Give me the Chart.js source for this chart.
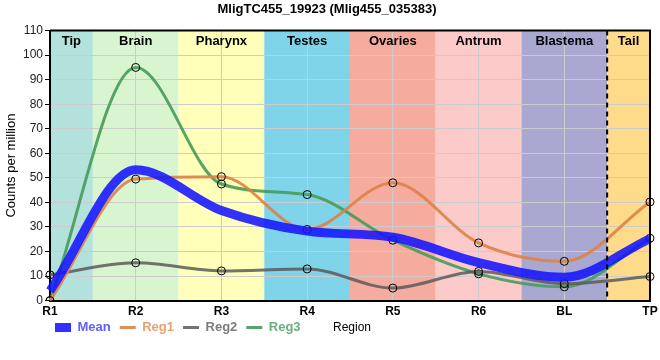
<!DOCTYPE html>
<html>
<head>
<meta charset="utf-8">
<script src="https://cdn.jsdelivr.net/npm/chart.js@4"></script>
<style>
  html, body { margin: 0; padding: 0; background: #fff; }
  #wrap { width: 660px; height: 360px; }
</style>
</head>
<body>
<div id="wrap"><canvas id="grafico"></canvas></div>
<script>
  const categorias = ['R1', 'R2', 'R3', 'R4', 'R5', 'R6', 'BL', 'TP'];
  const regioes = ['Tip', 'Brain', 'Pharynx', 'Testes', 'Ovaries', 'Antrum', 'Blastema', 'Tail'];
  const coresRegioes = ['#b3e2dd', '#d8f5d0', '#ffffb9', '#7fd4ea', '#f5ab9e', '#fdcaca', '#a9a8d0', '#fedb8b'];

  const media = [4, 53.3, 36.7, 28.3, 25.8, 15.5, 9.5, 25.2];
  const reg1 = [0, 49.5, 50.5, 29, 48, 23.5, 16, 40.2];
  const reg2 = [10.5, 15.4, 12.1, 12.9, 5.1, 11.9, 6.9, 9.8];
  const reg3 = [0, 95, 47.5, 43.2, 24.6, 10.9, 5.6, 25.4];
  const ticksY = { min: 0, max: 110, passo: 10 };

  // fundo colorido das regioes + linha tracejada + rotulos
  const fundoRegioes = {
    id: 'fundoRegioes',
    afterLayout(chart) {
      // ajusta a legenda: alinhada com o grafico, na altura certa
      chart.legend.left += 42;
      chart.legend.top = 328 - chart.legend.height / 2;
    },
    beforeDraw(chart) {
      const { ctx, chartArea, scales: { x } } = chart;
      ctx.save();
      regioes.forEach((r, i) => {
        const x0 = Math.max(x.getPixelForValue(i - 0.5), chartArea.left);
        const x1 = Math.min(x.getPixelForValue(i + 0.5), chartArea.right);
        ctx.fillStyle = coresRegioes[i];
        ctx.fillRect(x0, chartArea.top, x1 - x0, chartArea.bottom - chartArea.top);
      });
      ctx.restore();
    },
    afterDatasetsDraw(chart) {
      const { ctx, chartArea, scales: { x } } = chart;
      ctx.save();
      // linha tracejada entre Blastema e Tail
      const xd = x.getPixelForValue(6.5);
      ctx.strokeStyle = '#000';
      ctx.lineWidth = 2;
      ctx.setLineDash([5, 4]);
      ctx.beginPath();
      ctx.moveTo(xd, chartArea.top);
      ctx.lineTo(xd, chartArea.bottom);
      ctx.stroke();
      ctx.setLineDash([]);
      // borda direita e de cima
      ctx.beginPath();
      ctx.moveTo(chartArea.left, chartArea.top);
      ctx.lineTo(chartArea.right, chartArea.top);
      ctx.lineTo(chartArea.right, chartArea.bottom);
      ctx.stroke();
      // nomes das regioes
      ctx.fillStyle = '#000';
      ctx.font = 'bold 13px Arial, "Liberation Sans"';
      ctx.textAlign = 'center';
      ctx.textBaseline = 'middle';
      regioes.forEach((r, i) => {
        const x0 = Math.max(x.getPixelForValue(i - 0.5), chartArea.left);
        const x1 = Math.min(x.getPixelForValue(i + 0.5), chartArea.right);
        ctx.fillText(r, (x0 + x1) / 2, chartArea.top + 11);
      });
      ctx.restore();
    },
    afterDraw(chart) {
      const { ctx, chartArea, legend } = chart;
      ctx.save();
      ctx.fillStyle = '#000';
      ctx.font = '12px Arial, "Liberation Sans"';
      ctx.textAlign = 'center';
      ctx.textBaseline = 'middle';
      const yl = legend.top + legend.height / 2;
      ctx.fillText('Region', (chartArea.left + chartArea.right) / 2 + 2, yl);
      ctx.restore();
    }
  };

  const ctx = document.getElementById('grafico').getContext('2d');

  const serie = (label, data, cor, larg, pontos) => ({
    label,
    data,
    borderColor: cor,
    backgroundColor: cor,
    borderWidth: larg,
    fill: false,
    cubicInterpolationMode: 'monotone',
    pointRadius: pontos ? 4 : 0,
    pointHoverRadius: pontos ? 4 : 0,
    pointBackgroundColor: 'rgba(0,0,0,0)',
    pointBorderColor: '#000',
    pointBorderWidth: 1
  });

  const corTexto = ['#5f5fff', '#e8a070', '#7c7c7c', '#6cae7c'];

  const grafico = new Chart(ctx, {
    type: 'line',
    data: {
      labels: categorias,
      datasets: [
        serie('Mean', media, 'rgba(20,20,255,0.88)', 9, false),
        serie('Reg1', reg1, 'rgba(222,130,70,0.9)', 3, true),
        serie('Reg2', reg2, 'rgba(90,90,90,0.85)', 3, true),
        serie('Reg3', reg3, 'rgba(70,155,90,0.9)', 3, true)
      ]
    },
    options: {
      responsive: true,
      maintainAspectRatio: false,
      animation: false,
      layout: { padding: { left: 4, right: 10, top: 0, bottom: 5 } },
      plugins: {
        title: {
          display: true,
          text: 'MligTC455_19923 (Mlig455_035383)',
          color: '#000',
          font: { family: 'Arial, "Liberation Sans"', size: 13, weight: 'bold' },
          padding: { top: 2, bottom: 13 }
        },
        legend: {
          display: true,
          position: 'bottom',
          align: 'start',
          labels: {
            usePointStyle: true,
            pointStyleWidth: 16,
            boxHeight: 9,
            padding: 9,
            font: { family: 'Arial, "Liberation Sans"', size: 13, weight: 'bold' },
            generateLabels(chart) {
              return chart.data.datasets.map((d, i) => ({
                text: d.label,
                fontColor: corTexto[i],
                strokeStyle: d.borderColor,
                fillStyle: d.borderColor,
                lineWidth: i === 0 ? 9 : 3,
                pointStyle: 'line',
                hidden: false,
                datasetIndex: i
              }));
            }
          }
        },
        tooltip: { enabled: false }
      },
      scales: {
        x: {
          offset: false,
          grid: { color: '#cccccc', drawTicks: false },
          border: { color: '#000', width: 2 },
          ticks: {
            color: '#000',
            padding: 4,
            font: { family: 'Arial, "Liberation Sans"', size: 12, weight: 'bold' }
          },
          afterFit(scale) {
            scale.paddingRight = 0;
          }
        },
        y: {
          min: ticksY.min,
          max: ticksY.max,
          grid: { color: '#cccccc', drawTicks: true, tickLength: 5, tickColor: '#000' },
          border: { color: '#000', width: 2 },
          ticks: {
            stepSize: ticksY.passo,
            color: '#222',
            padding: 2,
            font: { family: 'Arial, "Liberation Sans"', size: 12 }
          },
          title: {
            display: true,
            text: 'Counts per million',
            color: '#000',
            font: { family: 'Arial, "Liberation Sans"', size: 13 },
            padding: { top: 0, bottom: 2 }
          },
          afterFit(scale) {
            scale.width = 46;
          }
        }
      }
    },
    plugins: [fundoRegioes]
  });
</script>
</body>
</html>
